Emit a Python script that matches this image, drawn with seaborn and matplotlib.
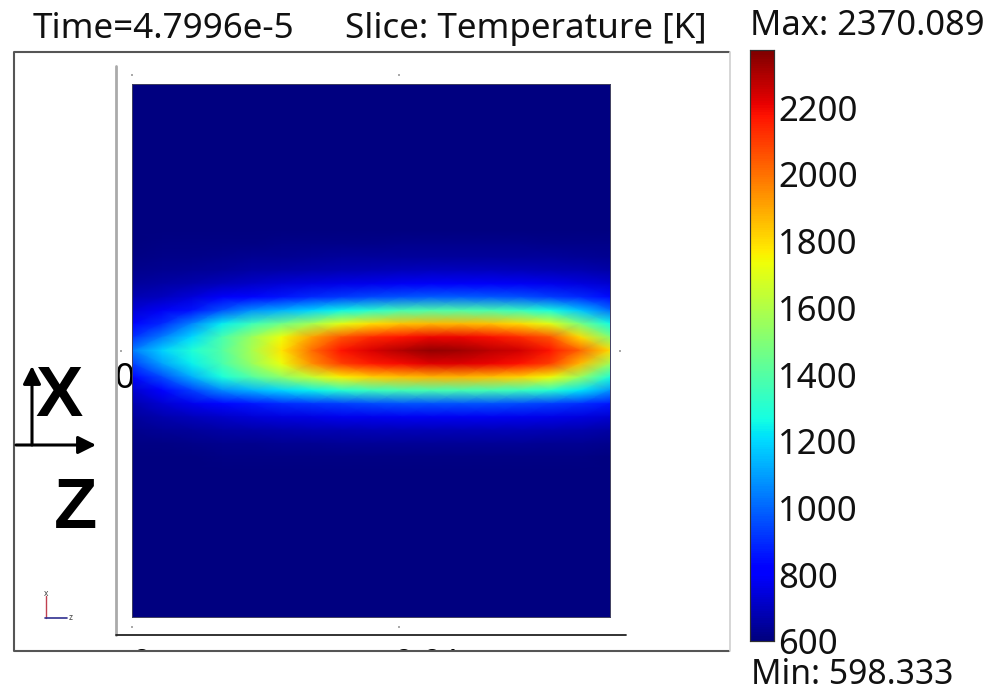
import matplotlib
matplotlib.use("Agg")
import matplotlib.pyplot as plt
from matplotlib.transforms import ScaledTranslation
import numpy as np
import seaborn as sns

sns.set_theme(style="white")
plt.rcParams["font.family"] = ["Noto Sans", "DejaVu Sans"]

T_MIN = 598.333
T_MAX = 2370.089
cbar_ticks = [600, 800, 1000, 1200, 1400, 1600, 1800, 2000, 2200]
title_time = "Time=4.7996e-5"
title_slice = "Slice: Temperature [K]"
label_max = "Max: 2370.089"
label_min = "Min: 598.333"

# temperature, 17 columns along z
cold_row = [600, 600, 600, 600, 600, 600, 600, 600, 600, 600, 600, 600, 600, 600, 600, 600, 600]
band_rows = [
    [600, 600, 600, 600, 600, 601, 601, 601, 601, 601, 601, 601, 601, 601, 601, 601, 600],
    [600, 600, 602, 602, 603, 604, 604, 605, 605, 605, 605, 605, 605, 605, 605, 604, 604],
    [605, 606, 608, 610, 612, 614, 615, 617, 618, 620, 620, 620, 620, 620, 618, 616, 614],
    [612, 615, 618, 622, 628, 632, 636, 640, 642, 645, 646, 646, 646, 645, 642, 638, 632],
    [625, 630, 638, 645, 655, 665, 672, 680, 688, 695, 698, 698, 696, 692, 685, 676, 665],
    [645, 655, 670, 690, 710, 730, 745, 760, 770, 785, 790, 790, 788, 780, 765, 745, 725],
    [680, 700, 740, 790, 830, 860, 890, 920, 950, 970, 980, 980, 975, 960, 930, 890, 840],
    [730, 780, 850, 960, 1070, 1130, 1190, 1250, 1310, 1370, 1390, 1390, 1380, 1340, 1270, 1160, 1020],
    [800, 890, 1050, 1230, 1350, 1460, 1570, 1710, 1790, 1840, 1860, 1860, 1850, 1800, 1700, 1480, 1260],
    [900, 1040, 1200, 1370, 1550, 1730, 1900, 2050, 2130, 2170, 2200, 2200, 2180, 2130, 2050, 1800, 1500],
    [1030, 1180, 1290, 1400, 1580, 1780, 2000, 2170, 2230, 2290, 2340, 2320, 2280, 2240, 2170, 2020, 1800],
    [930, 1100, 1240, 1370, 1540, 1720, 1940, 2090, 2160, 2190, 2220, 2220, 2200, 2170, 2090, 1860, 1560],
    [800, 950, 1120, 1270, 1400, 1520, 1640, 1760, 1820, 1850, 1870, 1870, 1850, 1810, 1740, 1540, 1280],
    [720, 810, 930, 1060, 1130, 1190, 1240, 1300, 1340, 1360, 1370, 1370, 1360, 1340, 1300, 1220, 1080],
    [670, 725, 770, 830, 860, 890, 910, 930, 950, 960, 965, 965, 960, 950, 930, 900, 860],
    [640, 670, 690, 715, 730, 745, 755, 765, 770, 775, 778, 778, 775, 770, 760, 745, 728],
    [620, 635, 645, 655, 662, 668, 675, 680, 682, 685, 686, 686, 685, 682, 676, 668, 660],
    [608, 612, 618, 622, 625, 628, 632, 635, 636, 637, 637, 637, 637, 635, 632, 628, 622],
    [602, 603, 605, 607, 608, 610, 611, 612, 612, 612, 612, 612, 612, 612, 610, 608, 605],
    [600, 600, 600, 601, 601, 602, 602, 603, 603, 603, 603, 603, 603, 603, 602, 601, 600],
]
temperature = np.array([cold_row] * 10 + band_rows + [cold_row] * 11)

W, H = 997, 691
fig = plt.figure(figsize=(W / 100, H / 100), dpi=100, facecolor="white")


def px_axes(x0, y0, x1, y1, **kw):
    return fig.add_axes([x0 / W, 1 - y1 / H, (x1 - x0) / W, (y1 - y0) / H], **kw)


# pixel canvas behind the heatmap for frame, axis lines and annotations
bg = px_axes(0, 0, W, H, zorder=0)
bg.set_xlim(0, W)
bg.set_ylim(H, 0)
bg.axis("off")

ax_map = px_axes(132, 84, 610, 617, zorder=2)
ax_bar = px_axes(750, 50, 774, 641, zorder=2)

sns.heatmap(temperature, ax=ax_map, cbar_ax=ax_bar, cmap="jet", vmin=T_MIN, vmax=T_MAX,
            xticklabels=False, yticklabels=False, shading="gouraud",
            cbar_kws={"ticks": cbar_ticks})
ax_map.set_xlim(0, temperature.shape[1] - 1)
ax_map.set_ylim(temperature.shape[0] - 1, 0)
for s in ax_map.spines.values():
    s.set_visible(True)
    s.set_linewidth(0.7)
    s.set_edgecolor("#404060")

ax_bar.tick_params(left=True, right=True, direction="in", length=4, width=1,
                   color="#301010", labelsize=25, labelcolor="#111111", pad=3)
shift_down = ScaledTranslation(0, -5 / 100, fig.dpi_scale_trans)
for lab in ax_bar.get_yticklabels():
    lab.set_verticalalignment("center")
    lab.set_transform(lab.get_transform() + shift_down)
for s in ax_bar.spines.values():
    s.set_visible(True)
    s.set_linewidth(0.8)
    s.set_edgecolor("#303030")

# clipped tick labels under the plot frame
bg.text(141, 648, "0", fontsize=25, ha="center", va="top", color="black", zorder=1)
bg.text(428, 648, "0.01", fontsize=25, ha="center", va="top", color="black", zorder=1)
bg.fill_between([0, W], 651, H, color="white", zorder=2)

# frame
bg.plot([729, 14, 14, 729], [52, 52, 651, 651], color="#555555", lw=1.5, zorder=3)
bg.plot([730, 730], [52, 651], color="#d0d0d0", lw=1.2, zorder=3)

# axis lines and small tick dots
bg.plot([116, 116], [66, 635], color="#aaaaaa", lw=2, zorder=3)
bg.plot([116, 626], [635, 635], color="#222222", lw=1.3, zorder=3)
bg.scatter([132, 399, 132, 399, 121, 620], [75, 75, 627, 627, 351, 351], s=3, marker="s",
           color="#aaaaaa", linewidths=0, zorder=3)
bg.text(124, 379, "0", fontsize=25, ha="center", va="center", color="black", zorder=1)

# hand drawn x/z marker
arrow = dict(arrowstyle="-|>,head_width=0.45,head_length=0.9", color="black", lw=2.2,
             shrinkA=0, shrinkB=0)
bg.annotate("", xy=(32, 366), xytext=(32, 445), arrowprops=arrow, zorder=4)
bg.annotate("", xy=(96, 445), xytext=(16, 445), arrowprops=arrow, zorder=4)
bg.text(59, 398, "X", fontsize=51, family="Liberation Sans", fontweight="bold", ha="center",
        va="center", color="black", zorder=4)
bg.text(75, 510, "Z", fontsize=51, family="Liberation Sans", fontweight="bold", ha="center",
        va="center", color="black", zorder=4)

# little coordinate triad
bg.plot([46, 46], [596, 618], color="#c04050", lw=1, zorder=4)
bg.plot([45, 67], [618, 618], color="#303090", lw=1.2, zorder=4)
bg.text(46, 593, "x", fontsize=6, ha="center", va="center", color="#444444", zorder=4)
bg.text(71, 618, "z", fontsize=6, ha="center", va="center", color="#444444", zorder=4)

# titles
bg.text(33, 29, title_time, fontsize=25.2, ha="left", va="center", color="#111111")
bg.text(345, 29, title_slice, fontsize=25.2, ha="left", va="center", color="#111111")
bg.text(750, 26, label_max, fontsize=24.8, ha="left", va="center", color="#111111")
bg.text(751, 675, label_min, fontsize=24.3, ha="left", va="center", color="#111111", zorder=5)

fig.savefig("out.png", dpi=100)
